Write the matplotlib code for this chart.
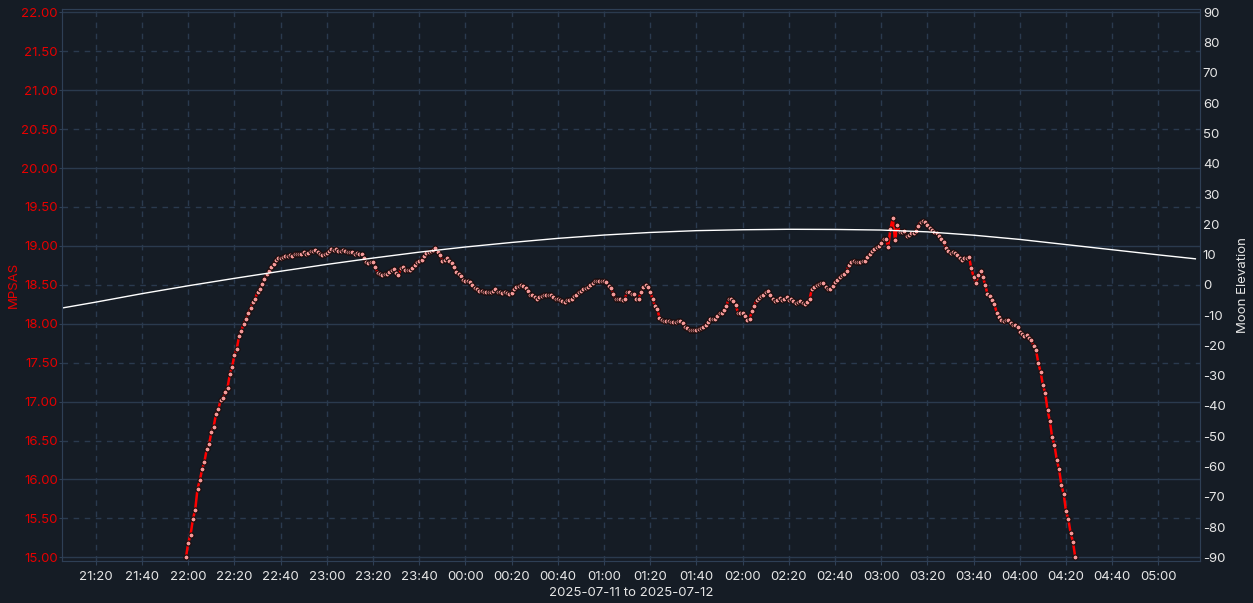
import numpy as np
import pandas as pd
import matplotlib
matplotlib.use("Agg")
import matplotlib.pyplot as plt
import matplotlib.dates as mdates

plt.rcParams['font.family'] = ['Inter', 'DejaVu Sans']

# MPSAS readings, one per minute starting 2025-07-11 21:59
mpsas_start = "2025-07-11 21:59"
mpsas = [
    15.00, 15.19, 15.29, 15.49, 15.61, 15.88, 15.99, 16.13, 16.23, 16.39,
    16.45, 16.61, 16.68, 16.84, 16.90, 17.02, 17.04, 17.12, 17.18, 17.35,
    17.45, 17.60, 17.68, 17.84, 17.91, 18.00, 18.06, 18.14, 18.20, 18.28,
    18.32, 18.41, 18.45, 18.51, 18.57, 18.64, 18.68, 18.73, 18.77, 18.82,
    18.85, 18.85, 18.86, 18.87, 18.87, 18.88, 18.87, 18.90, 18.90, 18.90,
    18.90, 18.92, 18.90, 18.91, 18.93, 18.94, 18.95, 18.92, 18.90, 18.88,
    18.89, 18.91, 18.93, 18.96, 18.95, 18.96, 18.94, 18.93, 18.95, 18.94,
    18.92, 18.92, 18.92, 18.90, 18.91, 18.90, 18.90, 18.85, 18.79, 18.78,
    18.79, 18.79, 18.73, 18.65, 18.64, 18.62, 18.64, 18.64, 18.66, 18.69,
    18.70, 18.65, 18.62, 18.72, 18.73, 18.69, 18.69, 18.69, 18.71, 18.76,
    18.79, 18.81, 18.82, 18.87, 18.91, 18.92, 18.93, 18.95, 18.97, 18.92,
    18.88, 18.81, 18.82, 18.84, 18.81, 18.78, 18.73, 18.67, 18.64, 18.61,
    18.56, 18.55, 18.55, 18.53, 18.50, 18.46, 18.45, 18.42, 18.42, 18.41,
    18.41, 18.41, 18.41, 18.42, 18.44, 18.41, 18.41, 18.40, 18.41, 18.39,
    18.38, 18.40, 18.45, 18.47, 18.48, 18.50, 18.48, 18.46, 18.42, 18.37,
    18.37, 18.34, 18.32, 18.34, 18.36, 18.37, 18.37, 18.37, 18.37, 18.34,
    18.32, 18.32, 18.30, 18.29, 18.28, 18.30, 18.30, 18.32, 18.35, 18.37,
    18.41, 18.42, 18.44, 18.46, 18.47, 18.50, 18.52, 18.55, 18.55, 18.55,
    18.55, 18.55, 18.54, 18.49, 18.46, 18.38, 18.32, 18.32, 18.32, 18.30,
    18.32, 18.41, 18.41, 18.38, 18.38, 18.32, 18.32, 18.41, 18.47, 18.50,
    18.47, 18.41, 18.32, 18.23, 18.19, 18.08, 18.05, 18.03, 18.04, 18.04,
    18.02, 18.02, 18.02, 18.04, 18.04, 18.01, 17.96, 17.94, 17.92, 17.92,
    17.92, 17.92, 17.93, 17.94, 17.96, 17.99, 18.02, 18.06, 18.06, 18.06,
    18.10, 18.14, 18.14, 18.18, 18.23, 18.32, 18.32, 18.29, 18.24, 18.14,
    18.14, 18.14, 18.10, 18.05, 18.06, 18.16, 18.23, 18.30, 18.33, 18.35,
    18.37, 18.41, 18.42, 18.37, 18.32, 18.29, 18.31, 18.33, 18.31, 18.32,
    18.34, 18.31, 18.32, 18.29, 18.27, 18.28, 18.29, 18.26, 18.25, 18.28,
    18.32, 18.45, 18.47, 18.50, 18.51, 18.52, 18.52, 18.47, 18.45, 18.45,
    18.48, 18.54, 18.56, 18.60, 18.62, 18.64, 18.68, 18.75, 18.79, 18.81,
    18.79, 18.79, 18.79, 18.80, 18.80, 18.86, 18.90, 18.94, 18.96, 18.98,
    19.00, 19.04, 19.09, 19.09, 18.99, 19.22, 19.36, 19.07, 19.27, 19.18,
    19.18, 19.19, 19.13, 19.14, 19.16, 19.17, 19.19, 19.26, 19.31, 19.32,
    19.31, 19.27, 19.23, 19.20, 19.18, 19.17, 19.13, 19.09, 19.05, 18.97,
    18.93, 18.91, 18.92, 18.91, 18.88, 18.84, 18.82, 18.84, 18.85, 18.86,
    18.71, 18.60, 18.52, 18.62, 18.68, 18.60, 18.50, 18.38, 18.35, 18.31,
    18.25, 18.14, 18.09, 18.05, 18.03, 18.05, 18.05, 18.01, 17.99, 17.98,
    17.96, 17.90, 17.87, 17.84, 17.85, 17.82, 17.79, 17.71, 17.66, 17.50,
    17.38, 17.21, 17.11, 16.89, 16.75, 16.54, 16.44, 16.25, 16.13, 15.93,
    15.81, 15.59, 15.49, 15.31, 15.20, 15.00,
]

# moon elevation (degrees)
moon_times = [
    "2025-07-11 21:05", "2025-07-11 21:20", "2025-07-11 21:40", "2025-07-11 22:00",
    "2025-07-11 22:20", "2025-07-11 22:40", "2025-07-11 23:00", "2025-07-11 23:20",
    "2025-07-11 23:40", "2025-07-12 00:00", "2025-07-12 00:20", "2025-07-12 00:40",
    "2025-07-12 01:00", "2025-07-12 01:20", "2025-07-12 01:40", "2025-07-12 02:00",
    "2025-07-12 02:20", "2025-07-12 02:40", "2025-07-12 03:00", "2025-07-12 03:20",
    "2025-07-12 03:40", "2025-07-12 04:00", "2025-07-12 04:20", "2025-07-12 04:40",
    "2025-07-12 05:00", "2025-07-12 05:16",
]
moon_elev = [
    -7.7, -5.7, -2.9, -0.3, 2.15, 4.5, 6.75, 8.85, 10.8, 12.5, 14.0, 15.35,
    16.45, 17.3, 17.9, 18.2, 18.35, 18.3, 18.1, 17.5, 16.4, 15.0, 13.3, 11.6,
    9.9, 8.6,
]

mpsas_ticks = np.arange(15.0, 22.01, 0.5)
moon_ticks = np.arange(-90, 91, 10)

bg = '#151c25'
gridc = '#2a3a4e'
spinec = '#2e3f55'
labc = '#e6e6e6'

t_mpsas = pd.date_range(mpsas_start, periods=len(mpsas), freq='1min')
t_moon = pd.to_datetime(moon_times)

fig = plt.figure(figsize=(12.53, 6.03), dpi=100, facecolor=bg)
ax = fig.add_axes([62 / 1253, 1 - 561 / 603, (1200 - 62) / 1253, (561 - 8.7) / 603])
ax.set_facecolor(bg)
ax2 = ax.twinx()

# grid: solid on whole numbers, dashed on halves
for v in mpsas_ticks:
    ax.axhline(v, color=gridc, lw=1.0, ls='-' if v % 1 == 0 else (0, (4, 4)), zorder=0)

ax.plot(t_mpsas, mpsas, color='#ff0000', lw=1.8, zorder=3,
        marker='o', markersize=3.6, markerfacecolor='#f59a9a',
        markeredgecolor='#1a0a0a', markeredgewidth=0.8)

ax2.plot(t_moon, moon_elev, color='white', lw=1.0, zorder=2)

x0 = pd.Timestamp("2025-07-11 21:05:20")
x1 = pd.Timestamp("2025-07-12 05:18:00")
ax.set_xlim(x0, x1)
ax.set_ylim(14.953, 22.046)
ax2.set_ylim(-91.2, 91.2)

xt = pd.date_range("2025-07-11 21:20", "2025-07-12 05:00", freq='20min')
ax.set_xticks(xt)
ax.xaxis.set_major_formatter(mdates.DateFormatter('%H:%M'))
for t in xt:
    ax.axvline(t, color=gridc, lw=1.0, ls=(0, (4, 4)), zorder=0)

ax.set_yticks(mpsas_ticks)
ax.set_yticklabels([f"{v:.2f}" for v in mpsas_ticks])
ax2.set_yticks(moon_ticks)
ax2.set_yticklabels([str(v) for v in moon_ticks])

ax.tick_params(axis='y', colors=spinec, labelcolor='#e60000', labelsize=9.5, length=2, pad=1)
ax.tick_params(axis='x', colors=spinec, labelcolor=labc, labelsize=9.5, length=3, pad=4)
ax2.tick_params(axis='y', colors=spinec, labelcolor=labc, labelsize=9.5, length=0, pad=2)

for a in (ax, ax2):
    for s in a.spines.values():
        s.set_color(spinec)

ax.set_xlabel("2025-07-11 to 2025-07-12", color=labc, fontsize=9.5, labelpad=3)
ax.set_ylabel("MPSAS", color='#e60000', fontsize=9.5, labelpad=1)
ax2.set_ylabel("Moon Elevation", color=labc, fontsize=9.5, labelpad=8)

fig.savefig("out.png", dpi=100, facecolor=bg)
